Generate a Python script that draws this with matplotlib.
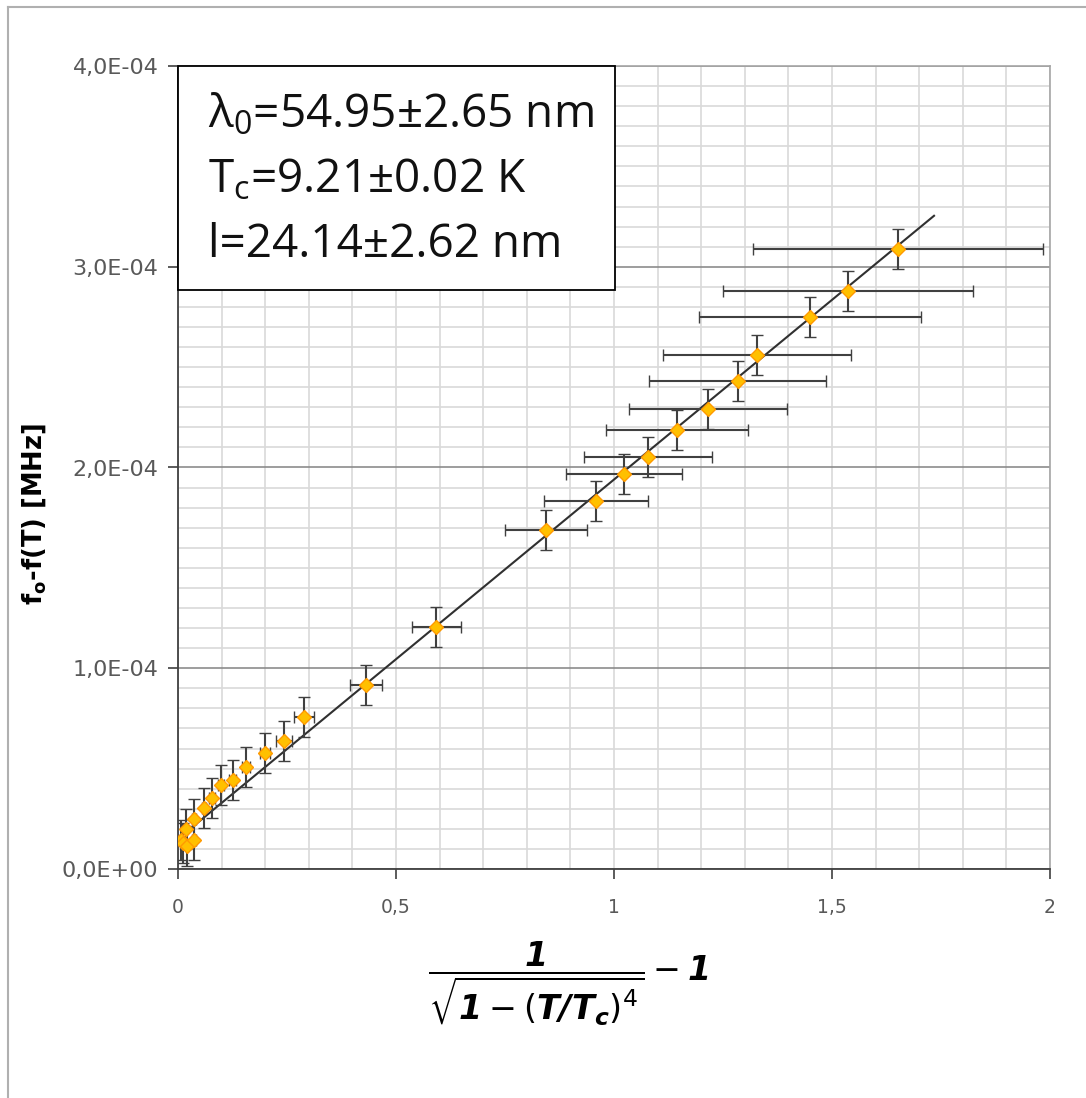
import numpy as np
import matplotlib
matplotlib.use("Agg")
import matplotlib.pyplot as plt
from matplotlib.ticker import MultipleLocator, FuncFormatter
from matplotlib.patches import Rectangle

# data
x = [1.651, 1.537, 1.450, 1.328, 1.284, 1.216, 1.144, 1.078, 1.023, 0.959,
     0.844, 0.592, 0.431, 0.289, 0.243, 0.200, 0.156, 0.126, 0.099, 0.078,
     0.060, 0.037, 0.018, 0.007, 0.011, 0.021, 0.037]
y = [3.088e-4, 2.879e-4, 2.750e-4, 2.560e-4, 2.431e-4, 2.291e-4, 2.187e-4,
     2.052e-4, 1.968e-4, 1.833e-4, 1.689e-4, 1.205e-4, 0.917e-4, 0.757e-4,
     0.638e-4, 0.578e-4, 0.508e-4, 0.443e-4, 0.418e-4, 0.354e-4, 0.304e-4,
     0.249e-4, 0.199e-4, 0.144e-4, 0.130e-4, 0.115e-4, 0.144e-4]
xerr = [0.332, 0.287, 0.255, 0.216, 0.203, 0.181, 0.163, 0.146, 0.133, 0.119,
        0.094, 0.056, 0.037, 0.022, 0.018, 0.012, 0.010, 0.008, 0.007, 0.006,
        0.005, 0.004, 0.003, 0.002, 0.002, 0.002, 0.004]
yerr = [1.0e-5] * len(x)

fit_slope = 1.79e-4
fit_intercept = 1.5e-5
fit_xrange = [0.0, 1.734]

box_lines = [r"$\mathregular{\lambda_0}$=54.95±2.65 nm",
             r"T$\mathregular{_c}$=9.21±0.02 K",
             "l=24.14±2.62 nm"]

fig = plt.figure(figsize=(10.86, 10.98), dpi=100)
ax = fig.add_axes([178 / 1086, 1 - 869 / 1098, 872 / 1086, 803 / 1098])

ax.set_xlim(0, 2)
ax.set_ylim(0, 4e-4)
ax.xaxis.set_major_locator(MultipleLocator(0.5))
ax.xaxis.set_minor_locator(MultipleLocator(0.1))
ax.yaxis.set_major_locator(MultipleLocator(1e-4))
ax.yaxis.set_minor_locator(MultipleLocator(1e-5))

ax.xaxis.set_major_formatter(FuncFormatter(lambda v, p: f"{v:g}".replace(".", ",")))
ax.yaxis.set_major_formatter(FuncFormatter(lambda v, p: ("%.1E" % v).replace(".", ",")))

ax.grid(which="minor", color="#d9d9d9", lw=1.2)
ax.grid(which="major", axis="x", color="#d9d9d9", lw=1.2)
ax.grid(which="major", axis="y", color="#8c8c8c", lw=1.2)
ax.set_axisbelow(True)

for s in ["top", "right"]:
    ax.spines[s].set_color("#a6a6a6")
    ax.spines[s].set_linewidth(1.2)
for s in ["left", "bottom"]:
    ax.spines[s].set_color("#404040")
    ax.spines[s].set_linewidth(1.3)

ax.tick_params(which="major", direction="out", length=7, width=1.2,
               color="#404040", labelcolor="#595959")
ax.tick_params(axis="y", which="major", labelsize=16, pad=7)
ax.tick_params(axis="x", which="major", labelsize=13.5, pad=14)
ax.tick_params(which="minor", length=0)

ax.plot(fit_xrange, [fit_intercept + fit_slope * v for v in fit_xrange],
        color="#303030", lw=1.5, zorder=3)
ax.errorbar(x, y, xerr=xerr, yerr=yerr, fmt="D", ms=7,
            mfc="#FFC000", mec="#FF9900", mew=1.0,
            ecolor="#404040", elinewidth=1.5, capsize=4, capthick=1.5, zorder=4)

# text box
ax.add_patch(Rectangle((0, 0.721), 0.501, 0.279, transform=ax.transAxes,
                       facecolor="white", edgecolor="black", lw=1.3,
                       zorder=5, clip_on=False))
for line, yy in zip(box_lines, [0.924, 0.843, 0.762]):
    ax.text(0.034, yy, line, transform=ax.transAxes, va="baseline", ha="left",
            fontsize=33, family="Open Sans", color="#111111", zorder=6)

ax.set_ylabel(r"f$_\mathregular{o}$-f(T) [MHz]", fontsize=18.5, fontweight="bold")
ax.yaxis.set_label_coords(-0.149, 0.442)

fig.text(568 / 1086, 1 - 983 / 1098,
         r"$\dfrac{\mathbfit{1}}{\sqrt{\mathbfit{1}-(\mathbfit{T/T_c})^{4}}}-\mathbfit{1}$",
         ha="center", va="center", fontsize=24)

# outer chart frame
fig.add_artist(plt.Line2D([8 / 1086, 1], [1 - 7 / 1098] * 2, color="#b0b0b0", lw=1.5))
fig.add_artist(plt.Line2D([8 / 1086] * 2, [0, 1 - 7 / 1098], color="#b0b0b0", lw=1.5))

fig.savefig("out.png", dpi=100)
